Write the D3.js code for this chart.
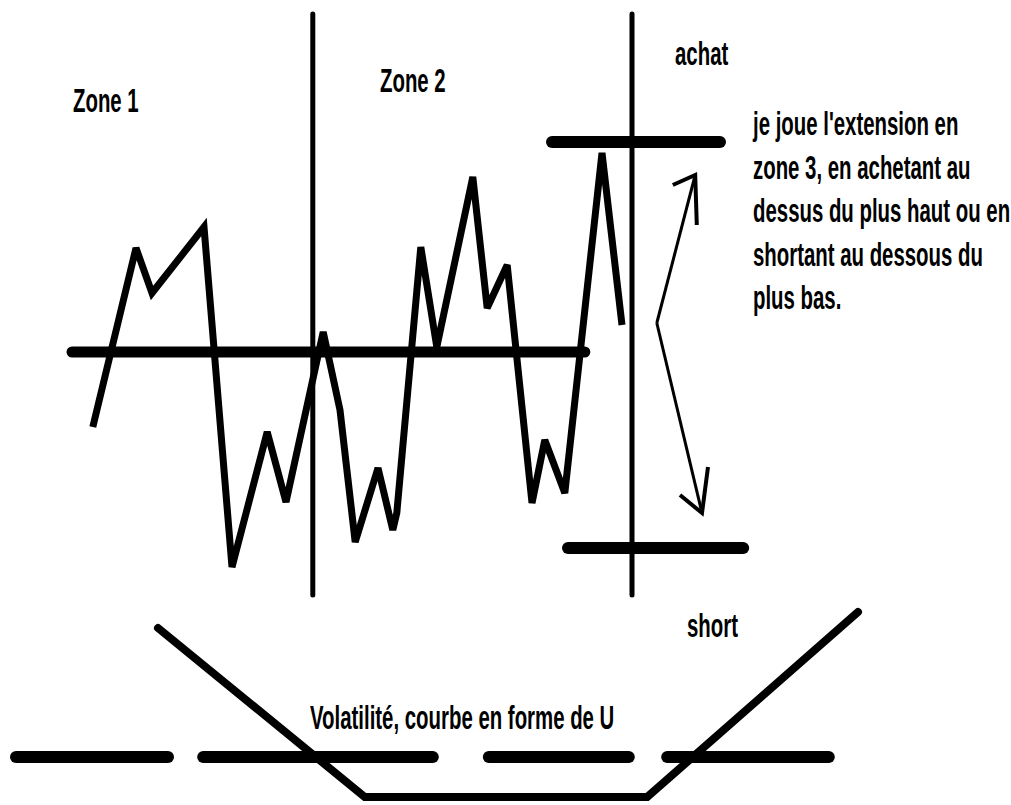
<!DOCTYPE html>
<html>
<head>
<meta charset="utf-8">
<script src="https://cdn.jsdelivr.net/npm/d3@7"></script>
<style>
  body { margin: 0; background: #fff; }
</style>
</head>
<body>
<div id="vis"></div>
<script>
var width = 1011,
  height = 805;

// price path : time step / price level
var priceTime = [4.1, 9.5, 11.5, 18, 21.5, 25.9, 28.25, 32.9, 35, 36.9, 39.75, 41.6, 42.1, 45.1, 47.1, 51.6, 53.4, 55.9, 59, 60.6, 63.1, 67.75, 70.25];
var priceLevel = [35, 70.8, 61.8, 75, 7, 34, 20, 54, 38.4, 12, 26.8, 14.4, 17.8, 71, 51, 85, 58.8, 67.4, 19.8, 32.4, 21.8, 89.8, 55.4];

// zone limits (time) and the price range they cover
var zoneBreaks = [31.6, 71.5];
var zoneRange = [1.4, 117.6];

// pivot / high / low levels with their time span
var pivotLevel = 50, pivotSpan = [1.5, 65.6];
var highLevel = 92, highSpan = [61.5, 82.5];
var lowLevel = 10.8, lowSpan = [63.5, 85.4];

// breakout arrows
var arrowFrom = [74.6, 55.8];
var arrowTips = [[79.4, 85.4], [80.25, 17.8]];
var arrowArms = [[[76.6, 83.4], [79.6, 75.4]], [[77.5, 21.4], [81, 27]]];

// volatility "U" curve
var volTime = [12.25, 38.1, 73.4, 99.75];
var volLevel = [84.5, 0, 0, 92.5];
var volAverage = 20;
var volDashes = [[-5.5, 13.5], [17.9, 46.6], [53.6, 71.1], [75.9, 96.1]];

// texts
var zoneLabels = ["Zone 1", "Zone 2"];
var sideLabels = ["achat", "short"];
var noteLines = ["je joue l'extension en", "zone 3, en achetant au", "dessus du plus haut ou en", "shortant au dessous du", "plus bas."];
var volTitle = "Volatilité, courbe en forme de U";

var x = d3.scaleLinear().domain([0, 100]).range([60, 860]);
var y = d3.scaleLinear().domain([0, 100]).range([602, 102]);
var yVol = d3.scaleLinear().domain([0, 100]).range([797, 597]);

var svg = d3.select("#vis")
  .append("svg")
  .attr("width", width)
  .attr("height", height)
  .style("background", "#fff");

var line = d3.line().x(d => x(d[0])).y(d => y(d[1]));

// zone separators
svg.append("g").selectAll("line")
  .data(zoneBreaks)
  .enter()
  .append("line")
  .attr("x1", d => x(d)).attr("x2", d => x(d))
  .attr("y1", y(zoneRange[1])).attr("y2", y(zoneRange[0]))
  .attr("stroke", "#000")
  .attr("stroke-width", 5)
  .attr("stroke-linecap", "round");

// levels
var levels = [
  { v: pivotLevel, span: pivotSpan, w: 11 },
  { v: highLevel, span: highSpan, w: 12 },
  { v: lowLevel, span: lowSpan, w: 12 }
];
svg.append("g").selectAll("line")
  .data(levels)
  .enter()
  .append("line")
  .attr("x1", d => x(d.span[0])).attr("x2", d => x(d.span[1]))
  .attr("y1", d => y(d.v)).attr("y2", d => y(d.v))
  .attr("stroke", "#000")
  .attr("stroke-width", d => d.w)
  .attr("stroke-linecap", "round");

// price (sharp spikes get bevelled so tips stay where they were drawn)
svg.append("path")
  .datum(d3.zip(priceTime, priceLevel))
  .attr("d", line)
  .attr("fill", "none")
  .attr("stroke", "#000")
  .attr("stroke-width", 7)
  .attr("stroke-linejoin", "miter")
  .attr("stroke-miterlimit", 3);

// arrows
arrowTips.forEach((tip, i) => {
  svg.append("path")
    .datum([arrowFrom, tip])
    .attr("d", line)
    .attr("fill", "none")
    .attr("stroke", "#000")
    .attr("stroke-width", 3);
  svg.append("path")
    .datum([arrowArms[i][0], tip, arrowArms[i][1]])
    .attr("d", line)
    .attr("fill", "none")
    .attr("stroke", "#000")
    .attr("stroke-width", 4)
    .attr("stroke-linejoin", "miter");
});

// volatility
svg.append("path")
  .datum(d3.zip(volTime, volLevel))
  .attr("d", d3.line().x(d => x(d[0])).y(d => yVol(d[1])))
  .attr("fill", "none")
  .attr("stroke", "#000")
  .attr("stroke-width", 8)
  .attr("stroke-linecap", "round")
  .attr("stroke-linejoin", "miter");

svg.append("g").selectAll("line")
  .data(volDashes)
  .enter()
  .append("line")
  .attr("x1", d => x(d[0])).attr("x2", d => x(d[1]))
  .attr("y1", yVol(volAverage)).attr("y2", yVol(volAverage))
  .attr("stroke", "#000")
  .attr("stroke-width", 12)
  .attr("stroke-linecap", "round");

// texts (bold, narrow & tall like the sketch)
function label(txt, px, py) {
  svg.append("text")
    .attr("transform", "translate(" + px + "," + py + ") scale(0.6,1)")
    .attr("font-family", "'Liberation Sans', Arial, sans-serif")
    .attr("font-weight", "bold")
    .attr("font-size", "34px")
    .attr("fill", "#000")
    .text(txt);
}
label(zoneLabels[0], 73, 112);
label(zoneLabels[1], 380, 92);
label(sideLabels[0], 675, 65);
label(sideLabels[1], 687, 637);
noteLines.forEach((t, i) => label(t, 753, 135 + i * 43.5));
label(volTitle, 310, 729);
</script>
</body>
</html>
